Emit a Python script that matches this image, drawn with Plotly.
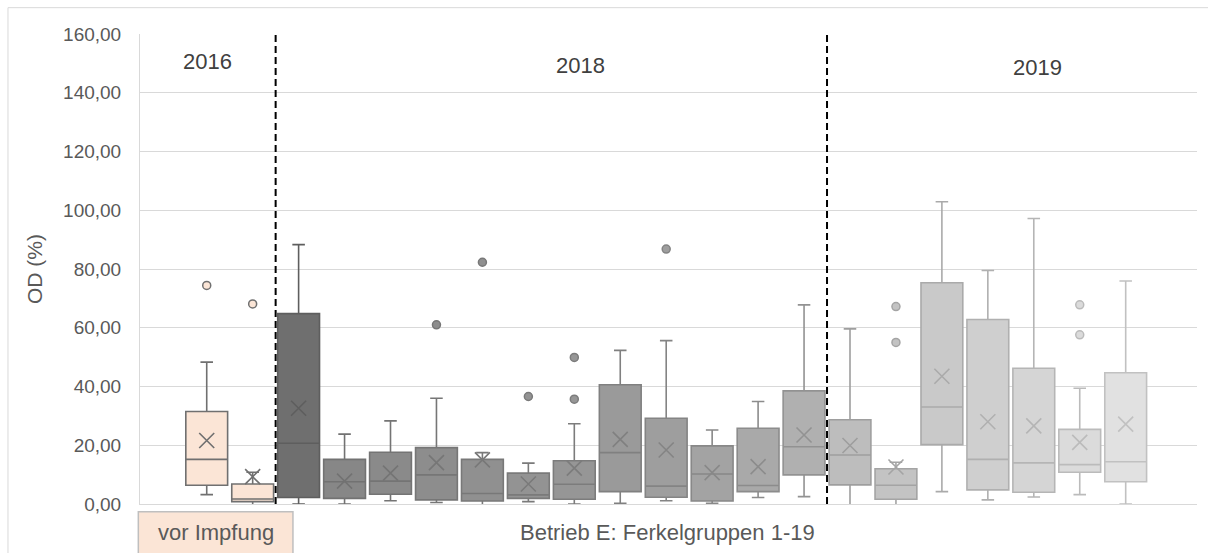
import plotly.graph_objects as go

# Ferkelgruppen: 2 groups before vaccination (2016), 12 in 2018, 7 in 2019
years = ["2016", "2018", "2019"]
group_counts = [2, 12, 7]

# Box statistics per group (OD %)
lower = [3.2, -0.3, 0.0, 0.0, 1.1, 0.5, -0.7, 0.8, 0.0, 0.2, 1.1, 0.2, 2.2, 2.5,
         -0.7, -0.6, 4.2, 1.4, 2.4, 3.2, 0.0]
q1 = [6.4, 0.8, 2.2, 1.9, 3.3, 1.4, 1.0, 1.9, 1.6, 4.2, 2.3, 1.0, 4.2, 9.9,
      6.5, 1.6, 20.2, 4.8, 4.0, 10.8, 7.6]
median = [15.2, 1.7, 20.7, 7.6, 7.8, 9.9, 3.6, 3.1, 6.7, 17.5, 6.1, 10.2, 6.3, 19.5,
          16.7, 6.4, 33.0, 15.2, 14.0, 13.4, 14.4]
q3 = [31.5, 6.8, 64.8, 15.2, 17.6, 19.2, 15.2, 10.5, 14.7, 40.6, 29.2, 19.8, 25.8, 38.5,
      28.7, 12.0, 75.3, 62.8, 46.2, 25.4, 44.7]
upper = [48.3, 10.8, 88.3, 23.8, 28.3, 36.0, 17.5, 13.9, 27.3, 52.3, 55.6, 25.2, 34.9, 67.8,
         59.6, 14.2, 102.9, 79.5, 97.2, 39.4, 75.9]
mean = [21.6, 9.3, 32.6, 7.8, 10.5, 14.1, 15.0, 6.8, 12.2, 22.0, 18.4, 10.7, 12.7, 23.5,
        19.9, 12.6, 43.5, 28.0, 26.6, 21.0, 27.2]
outliers = [[74.4], [68.1], [], [], [], [61.0], [82.3], [36.6], [49.9, 35.7], [], [86.8],
            [], [], [], [], [67.2, 55.0], [], [], [], [67.8, 57.6], []]

fill_colors = ["#FBE5D6", "#FBE5D6",
               "#6F6F6F", "#878787", "#8A8A8A", "#8D8D8D", "#909090", "#939393",
               "#969696", "#9A9A9A", "#9E9E9E", "#A3A3A3", "#A9A9A9", "#B0B0B0",
               "#BDBDBD", "#C3C3C3", "#C9C9C9", "#CFCFCF", "#D5D5D5", "#DBDBDB", "#E1E1E1"]
line_colors = ["#707070", "#707070",
               "#5E5E5E", "#727272", "#747474", "#767676", "#787878", "#7A7A7A",
               "#7C7C7C", "#808080", "#848484", "#888888", "#8C8C8C", "#929292",
               "#9E9E9E", "#A4A4A4", "#AAAAAA", "#B0B0B0", "#B5B5B5", "#BBBBBB", "#C1C1C1"]

y_ticks = [0, 20, 40, 60, 80, 100, 120, 140, 160]
y_tick_labels = ["0,00", "20,00", "40,00", "60,00", "80,00", "100,00", "120,00", "140,00", "160,00"]

FONT = "Liberation Sans, Arial, sans-serif"
TEXT_GREY = "#595959"

fig = go.Figure()

n = len(q1)
for i in range(n):
    fig.add_trace(go.Box(
        x=[i], q1=[q1[i]], median=[median[i]], q3=[q3[i]],
        lowerfence=[lower[i]], upperfence=[upper[i]],
        width=0.91, whiskerwidth=0.3,
        fillcolor=fill_colors[i],
        line=dict(color=line_colors[i], width=1.6),
        boxpoints=False, showlegend=False, hoverinfo="skip",
    ))
    # mean marker
    fig.add_trace(go.Scatter(
        x=[i], y=[mean[i]], mode="markers", showlegend=False, hoverinfo="skip",
        marker=dict(symbol="x-thin", size=15,
                    line=dict(color=line_colors[i], width=1.6)),
    ))
    if outliers[i]:
        fig.add_trace(go.Scatter(
            x=[i] * len(outliers[i]), y=outliers[i], mode="markers",
            showlegend=False, hoverinfo="skip",
            marker=dict(symbol="circle", size=8, color=fill_colors[i],
                        line=dict(color=line_colors[i], width=1.5)),
        ))

# dashed separators between the years
boundary = 0
for c in group_counts[:-1]:
    boundary += c
    fig.add_shape(type="line", xref="x", yref="y",
                  x0=boundary - 0.5, x1=boundary - 0.5, y0=0, y1=160,
                  line=dict(color="black", width=2, dash="7px,4px"), layer="above")

# chart area border
fig.add_shape(type="rect", xref="paper", yref="paper",
              x0=-0.1249, x1=1.1, y0=-0.2, y1=1.056,
              line=dict(color="#D9D9D9", width=1), fillcolor="rgba(0,0,0,0)", layer="below")

# "vor Impfung" label box
fig.add_shape(type="rect", xref="paper", yref="paper",
              x0=-0.0016, x1=0.1447, y0=-0.13, y1=-0.0164,
              line=dict(color="#BFBFBF", width=1.5), fillcolor="#FBE5D6")
fig.add_annotation(text="vor Impfung", xref="paper", yref="paper", x=0.0719, y=-0.0617,
                   showarrow=False, xanchor="center", yanchor="middle",
                   font=dict(family=FONT, size=22, color=TEXT_GREY))

# year headings
year_x = [0.0643, 0.4163, 0.8493]
year_y = [0.941, 0.9325, 0.928]
for label, xp, yp in zip(years, year_x, year_y):
    fig.add_annotation(text=label, xref="paper", yref="paper", x=xp, y=yp,
                       showarrow=False, xanchor="center", yanchor="middle",
                       font=dict(family=FONT, size=22, color="#404040"))

# axis titles
fig.add_annotation(text="Betrieb E: Ferkelgruppen 1-19", xref="paper", yref="paper",
                   x=0.4995, y=-0.0617, showarrow=False, xanchor="center", yanchor="middle",
                   font=dict(family=FONT, size=22, color=TEXT_GREY))
fig.add_annotation(text="OD (%)", xref="paper", yref="paper", x=-0.1003, y=0.5,
                   showarrow=False, textangle=-90, xanchor="center", yanchor="middle",
                   font=dict(family=FONT, size=21, color=TEXT_GREY))

fig.update_layout(
    width=1208, height=553,
    margin=dict(l=140, r=11, t=34, b=49),
    paper_bgcolor="white", plot_bgcolor="white",
    font=dict(family=FONT, color=TEXT_GREY),
    xaxis=dict(range=[-1.452, 21.552], showticklabels=False, showgrid=False,
               zeroline=False, showline=True, linecolor="#D9D9D9", linewidth=1),
    yaxis=dict(range=[0, 160], tickvals=y_ticks, ticktext=y_tick_labels,
               showgrid=True, gridcolor="#D9D9D9", gridwidth=1, zeroline=False,
               showline=True, linecolor="#D9D9D9", linewidth=1,
               ticks="", ticklabelstandoff=14,
               tickfont=dict(family=FONT, size=19, color=TEXT_GREY)),
)

fig.write_html("out.html")
